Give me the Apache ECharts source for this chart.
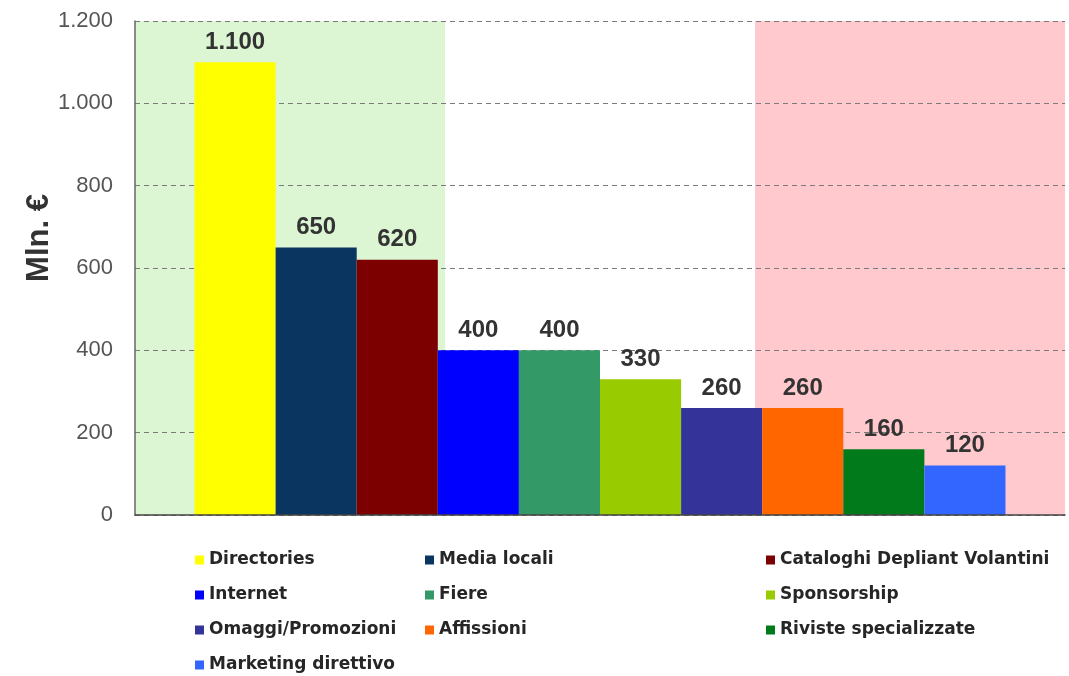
<!DOCTYPE html>
<html>
<head>
<meta charset="utf-8">
<style>
  html, body { margin: 0; padding: 0; background: #ffffff; }
  #chart { width: 1069px; height: 676px; }
</style>
<script src="https://cdn.jsdelivr.net/npm/echarts@6/dist/echarts.min.js"></script>
</head>
<body>
<div id="chart"></div>
<script>
// Spesa per mezzo (Mln. €)
const categories = [
  'Directories', 'Media locali', 'Cataloghi Depliant Volantini',
  'Internet', 'Fiere', 'Sponsorship',
  'Omaggi/Promozioni', 'Affissioni', 'Riviste specializzate',
  'Marketing direttivo'
];
const values = [1100, 650, 620, 400, 400, 330, 260, 260, 160, 120];
const colors = [
  '#FFFF00', '#0A3561', '#7D0000',
  '#0000FF', '#339966', '#99CC00',
  '#333399', '#FF6600', '#007A1A',
  '#3366FF'
];
const yTicks = { min: 0, max: 1200, step: 200 };

// Background bands, as fractions of the plot width
const bands = [
  { from: 0, to: 1 / 3, color: '#DCF6D3' },
  { from: 2 / 3, to: 1, color: '#FFC9CD' }
];

// Legend columns (indices into categories)
const legendColumns = [
  [0, 3, 6, 9],
  [1, 4, 7],
  [2, 5, 8]
];

const fmt = v => String(v).replace(/\B(?=(\d{3})+(?!\d))/g, '.');

const chart = echarts.init(document.getElementById('chart'));

const barSeries = categories.map((name, i) => ({
  name: name,
  type: 'bar',
  xAxisIndex: 0,
  data: [values[i]],
  barGap: '0%',
  barCategoryGap: '12.8%',
  itemStyle: { color: colors[i] },
  label: {
    show: true,
    position: 'top',
    distance: 8,
    formatter: p => fmt(p.value),
    fontFamily: 'Liberation Sans',
    fontWeight: 'bold',
    fontSize: 24,
    color: '#333333'
  },
  z: 3
}));

const bandSeries = {
  name: 'bands',
  type: 'line',
  xAxisIndex: 1,
  data: [],
  silent: true,
  z: -1,
  markArea: {
    silent: true,
    z: -1,
    data: bands.map(b => [
      { xAxis: b.from, itemStyle: { color: b.color } },
      { xAxis: b.to }
    ])
  }
};

const legends = legendColumns.map((col, k) => ({
  orient: 'vertical',
  left: [190, 420, 761][k],
  top: 545,
  height: 140,
  icon: 'rect',
  itemWidth: 9,
  itemHeight: 9,
  itemGap: 15,
  selectedMode: false,
  data: col.map(i => categories[i]),
  textStyle: {
    fontFamily: 'DejaVu Sans',
    fontWeight: 'bold',
    fontSize: 17,
    lineHeight: 20,
    color: '#262626'
  }
}));

chart.setOption({
  animation: false,
  backgroundColor: '#ffffff',
  grid: { left: 135, right: 4, top: 21, bottom: 161 },
  legend: legends,
  xAxis: [
    {
      type: 'category',
      data: [''],
      axisTick: { show: false },
      axisLabel: { show: false },
      axisLine: { show: true, lineStyle: { color: '#444444', width: 1.5 } },
      z: 5
    },
    {
      type: 'value',
      min: 0,
      max: 1,
      show: false
    }
  ],
  yAxis: {
    type: 'value',
    min: yTicks.min,
    max: yTicks.max,
    interval: yTicks.step,
    name: 'Mln. €',
    nameLocation: 'middle',
    nameGap: 80,
    nameMoveOverlap: false,
    nameRotate: 90,
    nameTextStyle: {
      fontFamily: 'Liberation Sans',
      fontWeight: 'bold',
      fontSize: 31,
      color: '#333333',
      padding: [0, 0, 0, 60]
    },
    axisLine: { show: true, lineStyle: { color: '#666666', width: 1.5 } },
    axisTick: { show: false },
    axisLabel: {
      formatter: v => fmt(v),
      fontFamily: 'Liberation Sans',
      fontSize: 22,
      color: '#555555',
      margin: 22
    },
    splitLine: {
      show: true,
      lineStyle: { color: '#7a7a7a', type: [5, 4], width: 1 }
    }
  },
  series: [bandSeries].concat(barSeries)
});
</script>
</body>
</html>
